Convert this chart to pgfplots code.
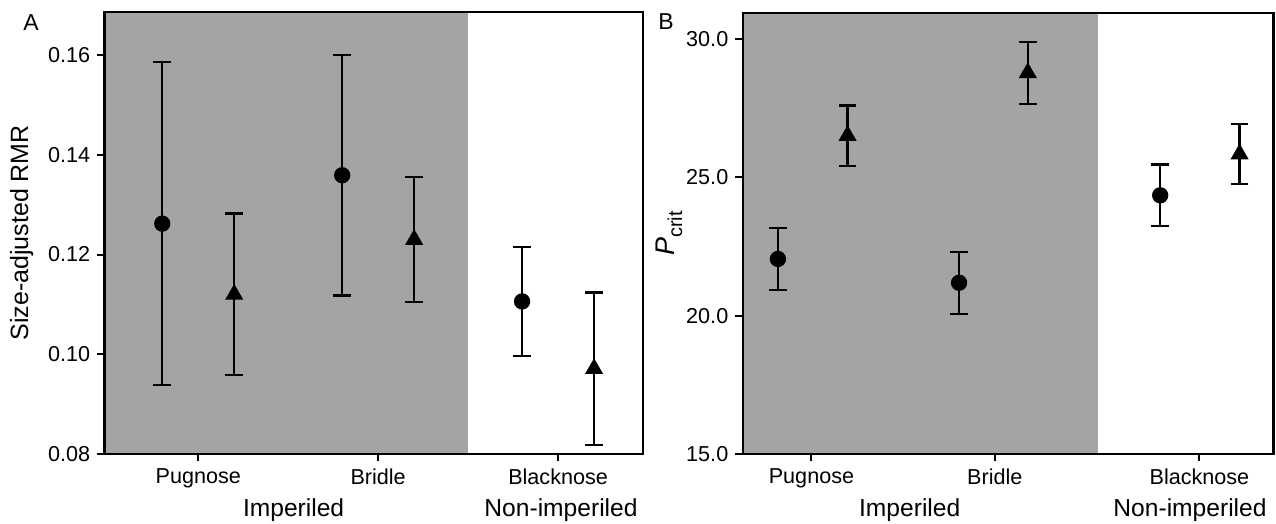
\documentclass[border=0pt]{standalone}
\usepackage{fontspec}
\setmainfont{Liberation Sans}
\usepackage{pgfplots}
\pgfplotsset{compat=1.18}
\definecolor{shade}{RGB}{164,164,164}

\pgfplotsset{
  panel/.style={
    scale only axis, axis on top, clip=false,
    axis line style={line width=1.1bp},
    major tick style={line width=1bp, black},
    major tick length=3.7bp,
    tick align=outside, xtick pos=bottom, ytick pos=left,
    tick label style={font=\fontsize{10.8bp}{12bp}\selectfont},
    label style={font=\fontsize{12.5bp}{14bp}\selectfont},
    /pgf/number format/assume math mode=true,
  },
  ci/.style={black, only marks, line width=1.15bp,
    /pgfplots/error bars/y dir=both,
    /pgfplots/error bars/y explicit,
    /pgfplots/error bars/error bar style={line width=1.15bp},
    /pgfplots/error bars/error mark options={rotate=90, mark size=4.4bp, line width=1.15bp}},
  dot/.style={ci, mark=*, mark size=3.5bp},
  tri/.style={ci, mark=triangle*, mark size=4.1bp},
}

\begin{document}
\begin{tikzpicture}
\path[use as bounding box] (0,0) rectangle (638bp,262bp);

% ===== A: size-adjusted RMR =====
\begin{axis}[panel,
  at={(52.25bp,35bp)}, anchor=south west,
  width=269.25bp, height=221.15bp,
  xmin=0.479, xmax=3.472, ymin=0.08, ymax=0.1687,
  xtick={1,2,3}, xticklabels={Pugnose,Bridle,Blacknose},
  ytick={0.08,0.10,0.12,0.14,0.16},
  yticklabel style={/pgf/number format/.cd, fixed, fixed zerofill, precision=2},
  ylabel={Size-adjusted RMR},
  ylabel style={at={(axis description cs:-0.154,0.5)}, anchor=center},
]
\addplot[fill=shade, draw=none, forget plot] coordinates {
  (0.479,0.08) (2.5,0.08) (2.5,0.1687) (0.479,0.1687)} -- cycle;
\addplot[dot] coordinates {
  (0.8,0.1262) +- (0,0.0324)
  (1.8,0.1359) +- (0,0.0241)
  (2.8,0.1106) +- (0,0.0109)};
\addplot[tri] coordinates {
  (1.2,0.1120) +- (0,0.0162)
  (2.2,0.1230) +- (0,0.0125)
  (3.2,0.0971) +- (0,0.0153)};
\end{axis}

% ===== B: Pcrit =====
\begin{axis}[panel,
  at={(371.35bp,35bp)}, anchor=south west,
  width=265.4bp, height=220.35bp,
  xmin=0.625, xmax=3.52, ymin=15, ymax=30.93,
  xtick={1,2,3.116}, xticklabels={Pugnose,Bridle,Blacknose},
  ytick={15,20,25,30},
  yticklabel style={/pgf/number format/.cd, fixed, fixed zerofill, precision=1},
  ylabel={\fontsize{13.5bp}{15bp}\selectfont\textit{P}\raisebox{-0.3em}{\fontsize{10bp}{11bp}\selectfont crit}},
  ylabel style={at={(axis description cs:-0.139,0.5)}, anchor=center},
]
\addplot[fill=shade, draw=none, forget plot] coordinates {
  (0.625,15) (2.561,15) (2.561,30.93) (0.625,30.93)} -- cycle;
\addplot[dot] coordinates {
  (0.817,22.05) +- (0,1.12)
  (1.805,21.19) +- (0,1.12)
  (2.902,24.35) +- (0,1.11)};
\addplot[tri] coordinates {
  (1.197,26.51) +- (0,1.09)
  (2.180,28.78) +- (0,1.12)
  (3.335,25.84) +- (0,1.09)};
\end{axis}

% ===== panel letters and group labels =====
\node[font=\fontsize{11.5bp}{12bp}\selectfont] at (15.5bp,250.75bp) {A};
\node[font=\fontsize{11.5bp}{12bp}\selectfont] at (333bp,251.25bp) {B};
\begin{scope}[every node/.style={anchor=base, inner sep=0pt, font=\fontsize{12.3bp}{14bp}\selectfont}]
\node at (146.8bp,4bp) {Imperiled};
\node at (280.5bp,4bp) {Non-imperiled};
\node at (454.85bp,4bp) {Imperiled};
\node at (595bp,4bp) {Non-imperiled};
\end{scope}
\end{tikzpicture}
\end{document}
